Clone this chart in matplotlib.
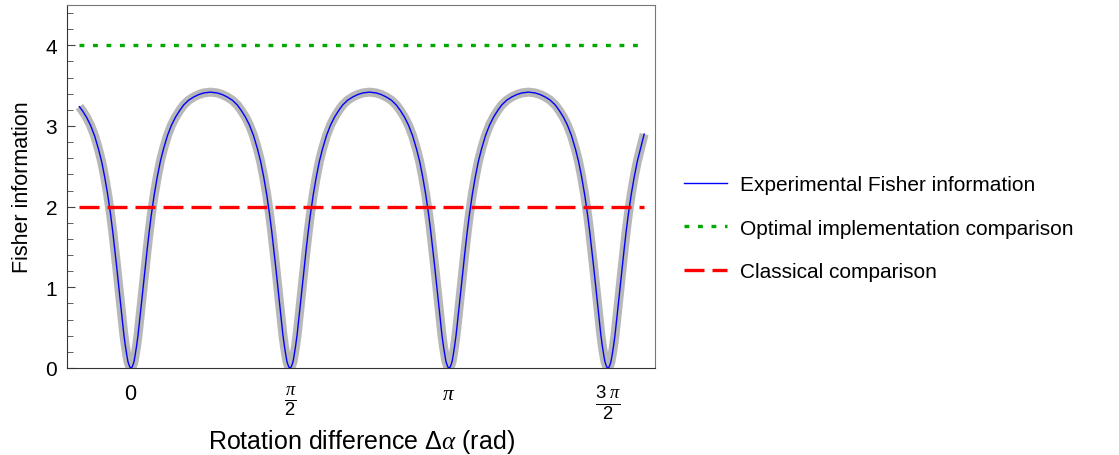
import numpy as np
import matplotlib
matplotlib.use("Agg")
import matplotlib.pyplot as plt
from matplotlib.ticker import MultipleLocator

# Fisher information vs rotation difference
# (one list per stretch of the curve, joined below)
angle_start = [-0.51, -0.48, -0.44, -0.40, -0.36, -0.32, -0.29, -0.26, -0.23, -0.20, -0.18,
               -0.16, -0.14, -0.12, -0.10, -0.085, -0.07, -0.055, -0.04, -0.03, -0.02, -0.01]
fisher_start = [3.24, 3.19, 3.11, 3.01, 2.88, 2.71, 2.56, 2.37, 2.15, 1.89, 1.69,
                1.47, 1.24, 1.00, 0.76, 0.58, 0.41, 0.27, 0.15, 0.08, 0.04, 0.01]

angle_lobe1 = [0.0, 0.01, 0.02, 0.03, 0.04, 0.055, 0.07, 0.085, 0.10, 0.12, 0.14, 0.16, 0.18,
               0.20, 0.23, 0.26, 0.29, 0.32, 0.36, 0.40, 0.44, 0.48, 0.52, 0.57, 0.62, 0.67,
               0.72, 0.785, 0.851, 0.901, 0.951, 1.001, 1.051, 1.091, 1.131, 1.171, 1.211,
               1.251, 1.281, 1.311, 1.341, 1.371, 1.391, 1.411, 1.431, 1.451, 1.471, 1.486,
               1.501, 1.516, 1.531, 1.541, 1.551, 1.561]
angle_lobe2 = [1.571, 1.581, 1.591, 1.601, 1.611, 1.626, 1.641, 1.656, 1.671, 1.691, 1.711,
               1.731, 1.751, 1.771, 1.801, 1.831, 1.861, 1.891, 1.931, 1.971, 2.011, 2.051,
               2.091, 2.141, 2.191, 2.241, 2.291, 2.356, 2.422, 2.472, 2.522, 2.572, 2.622,
               2.662, 2.702, 2.742, 2.782, 2.822, 2.852, 2.882, 2.912, 2.942, 2.962, 2.982,
               3.002, 3.022, 3.042, 3.057, 3.072, 3.087, 3.102, 3.112, 3.122, 3.132]
angle_lobe3 = [3.142, 3.152, 3.162, 3.172, 3.182, 3.197, 3.212, 3.227, 3.242, 3.262, 3.282,
               3.302, 3.322, 3.342, 3.372, 3.402, 3.432, 3.462, 3.502, 3.542, 3.582, 3.622,
               3.662, 3.712, 3.762, 3.812, 3.862, 3.927, 3.992, 4.042, 4.092, 4.142, 4.192,
               4.232, 4.272, 4.312, 4.352, 4.392, 4.422, 4.452, 4.482, 4.512, 4.532, 4.552,
               4.572, 4.592, 4.612, 4.627, 4.642, 4.657, 4.672, 4.682, 4.692, 4.702]
fisher_lobe1 = [0.0, 0.01, 0.04, 0.08, 0.15, 0.27, 0.41, 0.58, 0.76, 1.00, 1.24, 1.47, 1.69,
                1.89, 2.15, 2.37, 2.56, 2.71, 2.88, 3.01, 3.11, 3.19, 3.26, 3.32, 3.36, 3.39,
                3.41, 3.42, 3.41, 3.39, 3.36, 3.32, 3.26, 3.19, 3.11, 3.01, 2.88,
                2.71, 2.56, 2.37, 2.15, 1.89, 1.69, 1.47, 1.24, 1.00, 0.76, 0.58,
                0.41, 0.27, 0.15, 0.08, 0.04, 0.01]
fisher_lobe2 = [0.0, 0.01, 0.04, 0.08, 0.15, 0.27, 0.41, 0.58, 0.76, 1.00, 1.24, 1.47, 1.69,
                1.89, 2.15, 2.37, 2.56, 2.71, 2.88, 3.01, 3.11, 3.19, 3.26, 3.32, 3.36, 3.39,
                3.41, 3.42, 3.41, 3.39, 3.36, 3.32, 3.26, 3.19, 3.11, 3.01, 2.88,
                2.71, 2.56, 2.37, 2.15, 1.89, 1.69, 1.47, 1.24, 1.00, 0.76, 0.58,
                0.41, 0.27, 0.15, 0.08, 0.04, 0.01]
fisher_lobe3 = [0.0, 0.01, 0.04, 0.08, 0.15, 0.27, 0.41, 0.58, 0.76, 1.00, 1.24, 1.47, 1.69,
                1.89, 2.15, 2.37, 2.56, 2.71, 2.88, 3.01, 3.11, 3.19, 3.26, 3.32, 3.36, 3.39,
                3.41, 3.42, 3.41, 3.39, 3.36, 3.32, 3.26, 3.19, 3.11, 3.01, 2.88,
                2.71, 2.56, 2.37, 2.15, 1.89, 1.69, 1.47, 1.24, 1.00, 0.76, 0.58,
                0.41, 0.27, 0.15, 0.08, 0.04, 0.01]

angle_end = [4.712, 4.722, 4.732, 4.742, 4.752, 4.767, 4.782, 4.797, 4.812, 4.832, 4.852,
             4.872, 4.892, 4.912, 4.942, 4.972, 5.002, 5.032, 5.07]
fisher_end = [0.0, 0.01, 0.04, 0.08, 0.15, 0.27, 0.41, 0.58, 0.76, 1.00, 1.24,
              1.47, 1.69, 1.89, 2.15, 2.37, 2.56, 2.71, 2.90]

optimal_level = 4.0
classical_level = 2.0

xtick_pos = [0, np.pi / 2, np.pi, 3 * np.pi / 2]
xtick_labels = [r'$0$', r'$\frac{\pi}{2}$', r'$\pi$', r'$\frac{3\ \pi}{2}$']
yticks = [0, 1, 2, 3, 4]

plt.rcParams['font.family'] = ['Liberation Sans', 'DejaVu Sans']
plt.rcParams['mathtext.fontset'] = 'custom'
plt.rcParams['mathtext.rm'] = 'Liberation Sans'
plt.rcParams['mathtext.it'] = 'Liberation Serif:italic'
plt.rcParams['mathtext.bf'] = 'Liberation Sans:bold'


def main():
    angle = angle_start + angle_lobe1 + angle_lobe2 + angle_lobe3 + angle_end
    fisher = fisher_start + fisher_lobe1 + fisher_lobe2 + fisher_lobe3 + fisher_end

    fig = plt.figure(figsize=(11.19, 4.56), dpi=100)
    ax = fig.add_axes([67 / 1119, 1 - 369 / 456, (655 - 67) / 1119, (369 - 6) / 456])

    # gray band under the blue curve
    ax.plot(angle, fisher, color='#b8b8b8', lw=6.5, solid_capstyle='butt',
            solid_joinstyle='round', zorder=2)
    ax.plot(angle, fisher, color='#0000ff', lw=1.0, zorder=3,
            label='Experimental Fisher information')
    x0, x1 = angle[0], angle[-1]
    ax.plot([x0, x1], [optimal_level, optimal_level], color='#00a800', lw=2.4,
            linestyle=(0, (1.45, 2.6)), dash_capstyle='butt', zorder=4,
            label='Optimal implementation comparison')
    ax.plot([x0, x1], [classical_level, classical_level], color='#ff0000', lw=2.4,
            linestyle=(0, (6.0, 2.4)), dash_capstyle='butt', zorder=4,
            label='Classical comparison')

    ax.set_xlim(-0.632, 5.177)
    ax.set_ylim(0, 4.5)
    ax.set_xticks(xtick_pos)
    ax.set_xticklabels(xtick_labels, fontsize=15.5)
    for lab in ax.get_xticklabels()[1::2]:
        lab.set_fontsize(19)
    ax.set_yticks(yticks)
    ax.yaxis.set_minor_locator(MultipleLocator(0.2))
    ax.tick_params(axis='y', which='both', direction='in', labelsize=15, pad=7,
                   color='#444444')
    ax.tick_params(axis='y', which='major', length=6)
    ax.tick_params(axis='y', which='minor', length=4)
    ax.tick_params(axis='x', length=0, pad=11)

    for side in ['left', 'bottom']:
        ax.spines[side].set_color('#333333')
    for side in ['top', 'right']:
        ax.spines[side].set_color('#777777')

    ax.set_ylabel('Fisher information', fontsize=15.5, labelpad=9)
    ax.set_xlabel(r'Rotation difference $\Delta\alpha$ (rad)', fontsize=18, labelpad=4)

    fig.legend(loc='upper left', bbox_to_anchor=(684 / 1119, 1 - 176 / 456),
               frameon=False, fontsize=15, handlelength=2.06, handletextpad=0.62,
               labelspacing=1.18, borderpad=0, borderaxespad=0)

    fig.savefig('out.png', dpi=100)


if __name__ == "__main__":
    main()
